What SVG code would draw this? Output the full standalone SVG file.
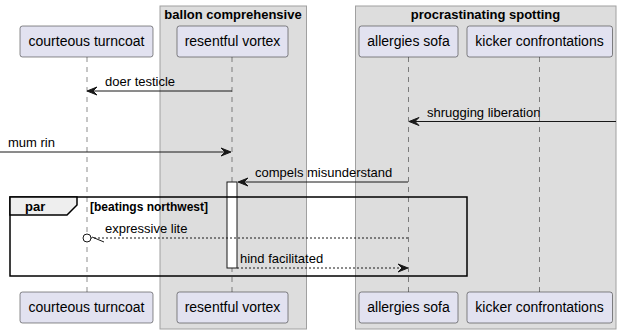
<svg xmlns="http://www.w3.org/2000/svg" width="622" height="334" viewBox="0 0 622 334">
  <style>
    .box { fill: #DDDDDD; stroke: #A0A0A0; stroke-width: 1; }
    .boxtitle { font: bold 13px "Liberation Sans", Arial, sans-serif; fill: #000; text-anchor: middle; }
    .part rect { fill: #E2E2F0; stroke: #181818; stroke-width: 0.5; }
    .part text { font: 14px "Liberation Sans", Arial, sans-serif; fill: #000; text-anchor: middle; }
    .life { stroke: #181818; stroke-width: 0.5; stroke-dasharray: 5,5; fill: none; }
    .msg { stroke: #181818; stroke-width: 1; fill: none; }
    .dash { stroke-dasharray: 2,2; }
    .head { fill: #181818; stroke: #181818; stroke-width: 1; }
    .lbl { font: 13px "Liberation Sans", Arial, sans-serif; fill: #000; }
    .frame { fill: none; stroke: #000; stroke-width: 1.5; }
    .tab { fill: #EEEEEE; stroke: #000; stroke-width: 1.5; }
    .act { fill: #FFFFFF; stroke: #181818; stroke-width: 1; }
  </style>

  <!-- participant group boxes -->
  <g id="box-ballon-comprehensive">
    <rect class="box" x="160" y="6" width="146.5" height="323"/>
    <text class="boxtitle" x="233" y="19">ballon comprehensive</text>
  </g>
  <g id="box-procrastinating-spotting">
    <rect class="box" x="355.5" y="6" width="260.5" height="323"/>
    <text class="boxtitle" x="485.5" y="19">procrastinating spotting</text>
  </g>

  <!-- lifelines -->
  <g id="lifelines">
    <line class="life" x1="87" y1="57" x2="87" y2="292"/>
    <line class="life" x1="232" y1="57" x2="232" y2="292"/>
    <line class="life" x1="408.5" y1="57" x2="408.5" y2="292"/>
    <line class="life" x1="539.5" y1="57" x2="539.5" y2="292"/>
  </g>

  <!-- participants -->
  <g id="courteous-turncoat" class="part">
    <rect x="20" y="26" width="133" height="31" rx="2.5"/>
    <text x="86.5" y="46">courteous turncoat</text>
    <rect x="20" y="292" width="133" height="31" rx="2.5"/>
    <text x="86.5" y="312">courteous turncoat</text>
  </g>
  <g id="resentful-vortex" class="part">
    <rect x="177" y="26" width="111" height="31" rx="2.5"/>
    <text x="232.5" y="46">resentful vortex</text>
    <rect x="177" y="292" width="111" height="31" rx="2.5"/>
    <text x="232.5" y="312">resentful vortex</text>
  </g>
  <g id="allergies-sofa" class="part">
    <rect x="359" y="26" width="99" height="31" rx="2.5"/>
    <text x="408.5" y="46">allergies sofa</text>
    <rect x="359" y="292" width="99" height="31" rx="2.5"/>
    <text x="408.5" y="312">allergies sofa</text>
  </g>
  <g id="kicker-confrontations" class="part">
    <rect x="467" y="26" width="145.5" height="31" rx="2.5"/>
    <text x="539.5" y="46">kicker confrontations</text>
    <rect x="467" y="292" width="145.5" height="31" rx="2.5"/>
    <text x="539.5" y="312">kicker confrontations</text>
  </g>

  <!-- activation bar on resentful vortex -->
  <g id="activation">
    <rect class="act" x="227" y="182" width="10" height="86"/>
  </g>

  <!-- par fragment -->
  <g id="par-fragment">
    <rect class="frame" x="10" y="197" width="457" height="79"/>
    <path class="tab" d="M10,197 L77,197 L77,205 L67,215 L10,215 Z"/>
    <text x="25" y="211" style="font: bold 13px 'Liberation Sans', Arial, sans-serif;">par</text>
    <text x="90" y="211" style="font: bold 12px 'Liberation Sans', Arial, sans-serif;">[beatings northwest]</text>
  </g>

  <!-- messages -->
  <g id="connectors">
    <line class="msg" x1="232" y1="91" x2="88" y2="91"/>
    <polygon class="head" points="87,91 97,87 93,91 97,95"/>
    <text class="lbl" x="105" y="86">doer testicle</text>

    <line class="msg" x1="616" y1="121.5" x2="410" y2="121.5"/>
    <polygon class="head" points="409,121.5 419,117.5 415,121.5 419,125.5"/>
    <text class="lbl" x="427" y="117">shrugging liberation</text>

    <line class="msg" x1="0" y1="152" x2="230" y2="152"/>
    <polygon class="head" points="231,152 221,148 225,152 221,156"/>
    <text class="lbl" x="8" y="147">mum rin</text>

    <line class="msg" x1="408" y1="182" x2="239" y2="182"/>
    <polygon class="head" points="238,182 248,178 244,182 248,186"/>
    <text class="lbl" x="255" y="177">compels misunderstand</text>

    <line class="msg dash" x1="408" y1="238" x2="91" y2="238"/>
    <circle cx="87" cy="238" r="4" fill="#FFFFFF" stroke="#181818" stroke-width="1"/>
    <line class="msg" x1="92" y1="237" x2="104" y2="242"/>
    <text class="lbl" x="105" y="233">expressive lite</text>

    <line class="msg dash" x1="237" y1="268" x2="406" y2="268"/>
    <polygon class="head" points="408,268 398,264 402,268 398,272"/>
    <text class="lbl" x="240" y="263">hind facilitated</text>
  </g>
</svg>
